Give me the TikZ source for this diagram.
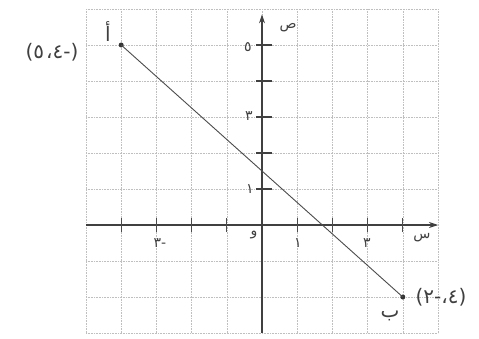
\documentclass[tikz,border=0pt]{standalone}
\usepackage{fontspec}
\newfontfamily\arabicfont[Script=Arabic]{DejaVu Sans}
\TeXXeTstate=1
\usetikzlibrary{arrows.meta}
\begin{document}
\begin{tikzpicture}[x=1pt,y=1pt,
  gridline/.style={gray!50, densely dotted, line width=0.6pt},
  axis/.style={black!75, line width=1.1pt},
  graphline/.style={black!70, line width=0.9pt},
  xtick/.style={black!70, line width=1pt},
  ytick/.style={black!75, line width=2pt},
  lbl/.style={font=\arabicfont\fontsize{14}{16}\selectfont, text=black!75, inner sep=0pt},
  ptlbl/.style={font=\arabicfont\fontsize{20}{24}\selectfont, text=black!75, inner sep=0pt},
  dot/.style={circle, fill=black!80, inner sep=0pt, minimum size=5pt}]
\useasboundingbox (0,0) rectangle (479,338);
\fill[white] (0,0) rectangle (479,338);
\begin{scope}[shift={(262,113)}, x=35.2pt, y=36pt]
  \foreach \i in {-5,...,5} \draw[gridline] (\i,-3) -- (\i,6);
  \foreach \j in {-3,...,6} \draw[gridline] (-5,\j) -- (5,\j);
  \coordinate (xs) at (-5,0);
  \coordinate (xe) at (5,0);
  \coordinate (ys) at (0,-3);
  \coordinate (ye) at (0,5.85);
  \draw[axis,-{Stealth[length=9pt,width=6pt]}] (xs) -- (xe);
  \draw[axis,-{Stealth[length=9pt,width=6pt]}] (ys) -- (ye);
  \foreach \i in {-4,-3,-2,-1,1,2,3,4} \draw[xtick] (\i,-0.2) -- (\i,0.2);
  \foreach \j in {1,2,3,4,5} \draw[ytick] (-0.17,\j) -- (0.27,\j);
  \node[dot] (A) at (-4,5) {};
  \node[dot] (B) at (4,-2) {};
  \draw[graphline] (A.center) -- (B.center);
\end{scope}
\node[ptlbl] (Alab) at (52,286) {\beginR(-٤،\kern2pt ٥)\endR};
\node[ptlbl] (Aname) at (108,306) {\beginR أ\endR};
\node[ptlbl] (Blab) at (441,41) {\beginR(٤،-٢)\endR};
\node[ptlbl] (Bname) at (390,22) {\beginR ب\endR};
\node[lbl] (xm3) at (160,95) {\beginR-٣\endR};
\node[lbl] (org) at (254,103) {\beginR و\endR};
\node[lbl] (x1) at (298,95) {\beginR ١\endR};
\node[lbl] (x3) at (367,95) {\beginR ٣\endR};
\node[lbl] (xname) at (422,100) {\beginR س\endR};
\node[lbl] (y5) at (248,291) {\beginR ٥\endR};
\node[lbl] (y3) at (249,222) {\beginR ٣\endR};
\node[lbl] (y1) at (250,149) {\beginR ١\endR};
\node[lbl] (yname) at (288,310) {\beginR ص\endR};
\end{tikzpicture}
\end{document}
